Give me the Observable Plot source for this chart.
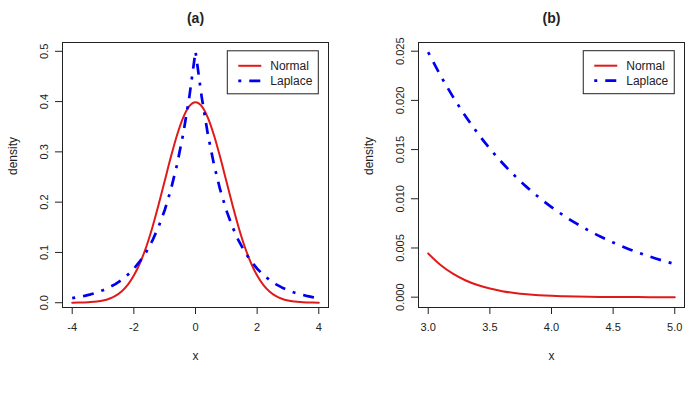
<!DOCTYPE html>
<html>
<head>
<meta charset="utf-8">
<script src="https://cdn.jsdelivr.net/npm/d3@7"></script>
<script src="https://cdn.jsdelivr.net/npm/@observablehq/plot@0.6"></script>
<style>
  body { margin: 0; background: #fff; }
  #fig { position: relative; width: 691px; height: 401px; overflow: hidden; background: #fff;
         font-family: "Liberation Sans", Arial, sans-serif; }
  #fig svg { position: absolute; top: 0; }
</style>
</head>
<body>
<div id="fig"></div>
<script>
// Panel (a): densities over [-4, 4]
const xA = [-4.0, -3.8, -3.6, -3.4, -3.2, -3.0, -2.8, -2.6, -2.4, -2.2, -2.0, -1.8, -1.6, -1.4, -1.2, -1.0, -0.8, -0.6, -0.4, -0.2,
             0.0, 0.2, 0.4, 0.6, 0.8, 1.0, 1.2, 1.4, 1.6, 1.8, 2.0, 2.2, 2.4, 2.6, 2.8, 3.0, 3.2, 3.4, 3.6, 3.8, 4.0];
const normalA = [0.0001, 0.0003, 0.0006, 0.0012, 0.0024, 0.0044, 0.0079, 0.0136, 0.0224, 0.0355, 0.0540, 0.0790, 0.1109, 0.1497, 0.1942, 0.2420, 0.2897, 0.3332, 0.3683, 0.3910,
                 0.3989, 0.3910, 0.3683, 0.3332, 0.2897, 0.2420, 0.1942, 0.1497, 0.1109, 0.0790, 0.0540, 0.0355, 0.0224, 0.0136, 0.0079, 0.0044, 0.0024, 0.0012, 0.0006, 0.0003, 0.0001];
const laplaceA = [0.0092, 0.0112, 0.0137, 0.0167, 0.0204, 0.0249, 0.0304, 0.0371, 0.0454, 0.0554, 0.0677, 0.0826, 0.1009, 0.1233, 0.1506, 0.1839, 0.2247, 0.2744, 0.3352, 0.4094,
                  0.5000, 0.4094, 0.3352, 0.2744, 0.2247, 0.1839, 0.1506, 0.1233, 0.1009, 0.0826, 0.0677, 0.0554, 0.0454, 0.0371, 0.0304, 0.0249, 0.0204, 0.0167, 0.0137, 0.0112, 0.0092];

// Panel (b): right tail over [3, 5]
const xB = [3.0, 3.1, 3.2, 3.3, 3.4, 3.5, 3.6, 3.7, 3.8, 3.9, 4.0, 4.1, 4.2, 4.3, 4.4, 4.5, 4.6, 4.7, 4.8, 4.9, 5.0];
const normalB = [0.004432, 0.003267, 0.002384, 0.001723, 0.001232, 0.000873, 0.000612, 0.000425, 0.000292, 0.000199, 0.000134,
                 0.0000893, 0.0000589, 0.0000385, 0.0000249, 0.0000160, 0.0000101, 0.0000064, 0.0000040, 0.0000024, 0.0000015];
const laplaceB = [0.024894, 0.022525, 0.020381, 0.018442, 0.016686, 0.015099, 0.013662, 0.012362, 0.011185, 0.010121, 0.009158,
                  0.008286, 0.007498, 0.006784, 0.006139, 0.005554, 0.005026, 0.004548, 0.004115, 0.003723, 0.003369];

const seriesNames = ["Normal", "Laplace"];
const ticksAx = [-4, -2, 0, 2, 4];
const ticksAy = [0, 0.1, 0.2, 0.3, 0.4, 0.5];
const ticksBx = [3, 3.5, 4, 4.5, 5];
const ticksBy = [0, 0.005, 0.01, 0.015, 0.02, 0.025];

const ink = "#222";
const red = "#e01a1a";
const blue = "#0000ee";
const dotdash = "3,8,11,8";
const font = "'Liberation Sans', Arial, sans-serif";

function panel({title, xs, normal, laplace, left, width, margins, xDomain, yDomain,
                xTicks, yTicks, xFmt, yFmt, laplaceCurve}) {
  const rows = xs.map((x, i) => ({x, normal: normal[i], laplace: laplace[i]}));
  const svg = Plot.plot({
    width, height: 401, ...margins,
    style: {fontFamily: font, fontSize: "11px", color: ink, background: "transparent", overflow: "visible"},
    x: {domain: xDomain},
    y: {domain: yDomain},
    marks: [
      Plot.frame({stroke: ink}),
      Plot.axisX({ticks: xTicks, tickFormat: xFmt, tickSize: 7, tickPadding: 9, label: null}),
      Plot.axisY({ticks: yTicks, tickFormat: yFmt, tickRotate: -90, tickSize: 7, tickPadding: 8, label: null}),
      Plot.line(rows, {x: "x", y: "normal", stroke: red, strokeWidth: 2, curve: "monotone-x"}),
      Plot.line(rows, {x: "x", y: "laplace", stroke: blue, strokeWidth: 2.7, strokeDasharray: dotdash,
                       strokeLinecap: "butt", curve: laplaceCurve}),
      Plot.text([title], {text: d => d, frameAnchor: "top", dy: -29, fontSize: 14, fontWeight: "bold"}),
      Plot.text(["x"], {text: d => d, frameAnchor: "bottom", dy: 52, fontSize: 12}),
      Plot.text(["density"], {text: d => d, frameAnchor: "left", dx: -49, rotate: -90, fontSize: 12})
    ]
  });
  svg.style.left = left + "px";

  // Legend box, its top-right corner pinned to the last ticks of each axis
  const right = svg.scale("x").apply(xTicks[xTicks.length - 1]);
  const top = svg.scale("y").apply(yTicks[yTicks.length - 1]);
  const w = 91, h = 43, x0 = right - w;
  const g = d3.select(svg).append("g")
    .attr("font-family", font).attr("font-size", 12).attr("text-anchor", "start");
  g.append("rect").attr("x", x0).attr("y", top).attr("width", w).attr("height", h)
    .attr("fill", "white").attr("stroke", ink);
  const styles = [
    {stroke: red, width: 2, dash: null},
    {stroke: blue, width: 2.7, dash: dotdash}
  ];
  seriesNames.forEach((name, i) => {
    const y = top + 15 + i * 15;
    g.append("line").attr("x1", x0 + 11).attr("x2", x0 + 34).attr("y1", y).attr("y2", y)
      .attr("stroke", styles[i].stroke).attr("stroke-width", styles[i].width)
      .attr("stroke-dasharray", styles[i].dash);
    g.append("text").attr("x", x0 + 43).attr("y", y).attr("dy", "0.35em")
      .attr("text-anchor", "start").attr("fill", ink).text(name);
  });
  return svg;
}

const fig = document.getElementById("fig");

fig.appendChild(panel({
  title: "(a)", xs: xA, normal: normalA, laplace: laplaceA,
  left: 0, width: 345,
  margins: {marginLeft: 62, marginRight: 17, marginTop: 42, marginBottom: 94},
  xDomain: [-4.315, 4.315], yDomain: [-0.0095, 0.5175],
  xTicks: ticksAx, yTicks: ticksAy,
  xFmt: d => String(d), yFmt: d3.format(".1f"),
  laplaceCurve: "linear"
}));

fig.appendChild(panel({
  title: "(b)", xs: xB, normal: normalB, laplace: laplaceB,
  left: 345, width: 346,
  margins: {marginLeft: 73, marginRight: 7, marginTop: 42, marginBottom: 94},
  xDomain: [2.921, 5.079], yDomain: [-0.00105, 0.025884],
  xTicks: ticksBx, yTicks: ticksBy,
  xFmt: d3.format(".1f"), yFmt: d3.format(".3f"),
  laplaceCurve: "monotone-x"
}));
</script>
</body>
</html>
